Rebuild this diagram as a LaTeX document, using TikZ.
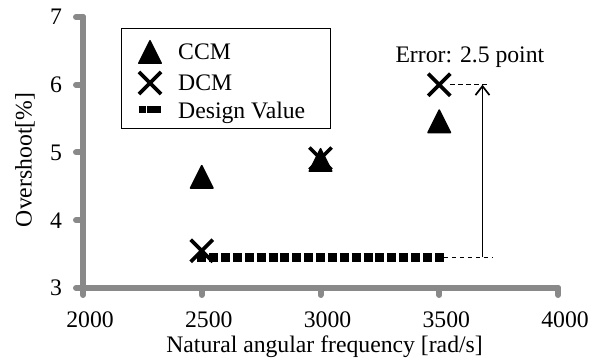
\documentclass[tikz,border=0pt]{standalone}
\usepackage{fontspec}
\setmainfont{Liberation Serif}
\usetikzlibrary{positioning,shapes.geometric,shapes.misc,arrows.meta}
\definecolor{axisgray}{RGB}{137,137,137}

\begin{document}
\begin{tikzpicture}[x=0.2375pt, y=67.75pt, font=\fontsize{23.7}{28}\selectfont,
  axis/.style = {draw=axisgray, line width=6pt, line cap=round},
  ylab/.style = {left=14pt, inner sep=0pt, outer sep=0pt},
  xlab/.style = {below=17pt, inner sep=0pt, outer sep=0pt, xshift=7pt},
  ccm/.style = {isosceles triangle, isosceles triangle apex angle=53,
    isosceles triangle stretches, shape border rotate=90,
    minimum width=22.5pt, minimum height=22.5pt, inner sep=0pt,
    draw, fill, line width=1.5pt, line join=round, yshift=-4.3pt},
  dcm/.style = {cross out, draw, line width=3.6pt, minimum size=18.5pt, inner sep=0pt},
  design/.style = {line width=9.5pt, dash pattern=on 9pt off 2.875pt},
  guide/.style = {line width=1.5pt, dash pattern=on 4.5pt off 3.5pt},
  errarrow/.style = {line width=1.7pt, -{Straight Barb[length=9pt,width=14pt]}},
  legend/.style = {draw, line width=0.8pt, minimum width=209pt, minimum height=100pt, inner sep=0pt},
  lgtext/.style = {inner sep=0pt, text depth=0pt}]
\useasboundingbox (1650.5,1.9668) rectangle (4189.5,7.2509);

% axes with tick stubs and labels
\draw[axis] (2000,7) -- (2000,3) -- (4000,3);
\draw[axis] (2000,7) -- ++(-7pt,0pt) node[ylab] (y7) {7}
            (2000,6) -- ++(-7pt,0pt) node[ylab] (y6) {6}
            (2000,5) -- ++(-7pt,0pt) node[ylab] (y5) {5}
            (2000,4) -- ++(-7pt,0pt) node[ylab] (y4) {4}
            (2000,3) -- ++(-7pt,0pt) node[ylab] (y3) {3}
            (2000,3) -- ++(0pt,-7pt) node[xlab] (x2000) {2000}
            (2500,3) -- ++(0pt,-7pt) node[xlab] (x2500) {2500}
            (3000,3) -- ++(0pt,-7pt) node[xlab] (x3000) {3000}
            (3500,3) -- ++(0pt,-7pt) node[xlab] (x3500) {3500}
            (4000,3) -- ++(0pt,-7pt) node[xlab] (x4000) {4000};
\node[rotate=90] (ytitle) at (1756,4.89) {Overshoot[\%]};
\node[anchor=base] (xtitle) at (3017,2.0406) {Natural angular frequency [rad/s]};

% design value
\coordinate (dv2500) at (2500,3.45);
\coordinate (dv3500) at (3500,3.45);
\draw[design] ([xshift=-4.5pt]dv2500) -- ([xshift=4.5pt]dv3500);

% measured points
\node[ccm] (c2500) at (2500,4.64) {};
\node[ccm] (c3000) at (3000,4.89) {};
\node[ccm] (c3500) at (3500,5.46) {};
\node[dcm] (d2500) at (2500,3.55) {};
\node[dcm] (d3000) at (3000,4.91) {};
\node[dcm] (d3500) at (3500,6) {};

% error marker
\coordinate (gtop) at (3714,6);
\coordinate (gbot) at (3726,3.45);
\coordinate (abase) at (3682,3.45);
\coordinate (atip) at (3682,6);
\draw[guide] (d3500) -- (gtop);
\draw[guide] ([xshift=4.5pt]dv3500) -- (gbot);
\draw[errarrow] (abase) -- (atip);
\node (err) at (3629,6.41) {Error: 2.5 point};

% legend
\coordinate (axtop) at (2000,7);
\node[legend, below right=11pt and 38pt of axtop] (lgbox) {};
\coordinate[below right=24pt and 29pt of lgbox.north west] (lg1);
\coordinate[below=31pt of lg1] (lg2);
\coordinate[below=27pt of lg2] (lg3);
\node[ccm] (lgccm) at (lg1) {};
\node[dcm] (lgdcm) at (lg2) {};
\draw[line width=7pt, dash pattern=on 7pt off 0.8pt] ([xshift=-11.3pt]lg3) -- ([xshift=11.3pt]lg3);
\node[lgtext, right=28pt of lg1] (tccm) {CCM};
\node[lgtext, right=28pt of lg2] (tdcm) {DCM};
\node[lgtext, right=28pt of lg3] (tdesign) {Design Value};
\end{tikzpicture}
\end{document}
